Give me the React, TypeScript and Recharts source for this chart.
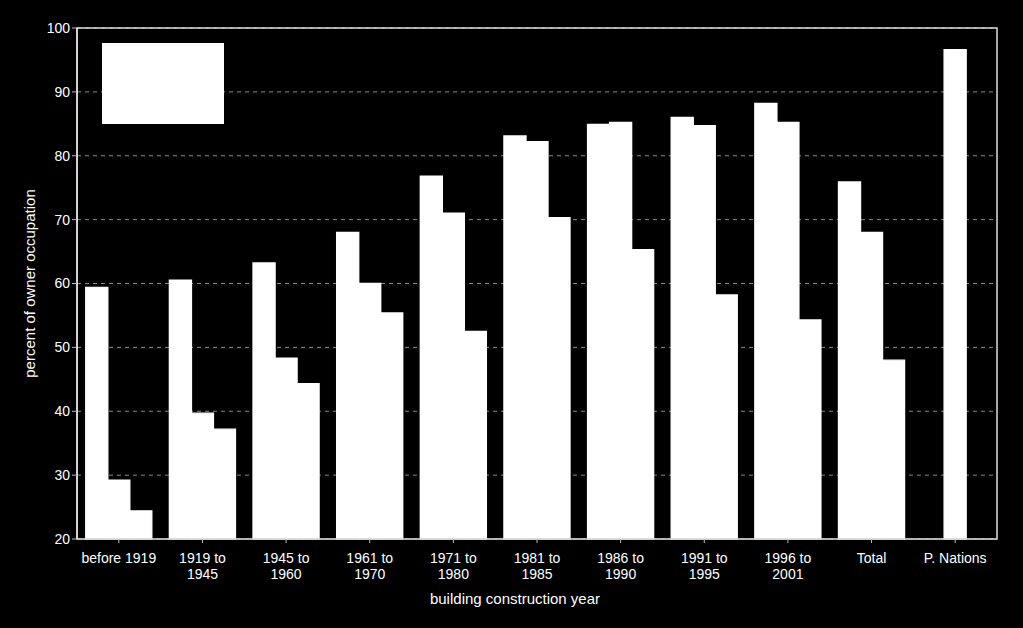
import { BarChart, Bar, XAxis, YAxis, CartesianGrid, Legend, ReferenceArea } from 'recharts';

const categories = [
  'before 1919',
  '1919 to 1945',
  '1945 to 1960',
  '1961 to 1970',
  '1971 to 1980',
  '1981 to 1985',
  '1986 to 1990',
  '1991 to 1995',
  '1996 to 2001',
  'Total',
  'P. Nations',
];

const seriesA = [59.4, 60.5, 63.2, 68.0, 76.8, 83.1, 84.9, 86.0, 88.2, 75.9, null];
const seriesB = [29.2, 39.7, 48.3, 60.0, 71.0, 82.2, 85.2, 84.7, 85.2, 68.0, 96.6];
const seriesC = [24.4, 37.2, 44.3, 55.4, 52.5, 70.3, 65.3, 58.2, 54.3, 48.0, null];

const yTicks = [20, 30, 40, 50, 60, 70, 80, 90, 100];

const data = categories.map((name, i) => ({
  name,
  a: seriesA[i],
  b: seriesB[i],
  c: seriesC[i],
}));

const FONT = '"Liberation Sans", Arial, sans-serif';

function CategoryTick({ x, y, payload }: any) {
  const label: string = payload.value;
  const idx = label.indexOf(' to ');
  const lines = idx >= 0 ? [label.slice(0, idx + 3), label.slice(idx + 4)] : [label];
  return (
    <text x={x} y={y + 18} textAnchor="middle" fill="#fff" fontSize={14} fontFamily={FONT}>
      {lines.map((l, i) => (
        <tspan key={i} x={x} dy={i === 0 ? 0 : 16}>
          {l}
        </tspan>
      ))}
    </text>
  );
}

export default function App() {
  return (
    <div style={{ position: 'fixed', left: 0, top: 0, width: 1023, height: 628, background: '#000' }}>
      <BarChart
        width={1023}
        height={628}
        data={data}
        margin={{ top: 28, right: 26, bottom: 39, left: 27 }}
        barGap={0}
        barCategoryGap="10.5%"
      >
        <CartesianGrid vertical={false} stroke="#8a8a8a" strokeDasharray="4 4" />
        <XAxis
          dataKey="name"
          height={50}
          interval={0}
          tick={<CategoryTick />}
          tickLine={{ stroke: '#bbb' }}
          axisLine={{ stroke: '#bbb' }}
          tickSize={4}
          label={{
            value: 'building construction year',
            position: 'insideBottom',
            offset: -15,
            dx: -22,
            fill: '#fff',
            fontSize: 15,
            fontFamily: FONT,
          }}
        />
        <YAxis
          width={50}
          domain={[20, 100]}
          ticks={yTicks}
          interval={0}
          tick={{ fill: '#fff', fontSize: 14, fontFamily: FONT }}
          tickLine={{ stroke: '#bbb' }}
          axisLine={{ stroke: '#fff' }}
          tickSize={5}
          label={{
            value: 'percent of owner occupation',
            angle: -90,
            position: 'insideLeft',
            offset: 3,
            fill: '#fff',
            fontSize: 15,
            fontFamily: FONT,
            style: { textAnchor: 'middle' },
          }}
        />
        <ReferenceArea y1={20} y2={100} fill="none" stroke="#ddd" strokeWidth={1.5} ifOverflow="visible" />
        <Legend
          layout="vertical"
          align="center"
          verticalAlign="middle"
          wrapperStyle={{ left: 102, top: 43, width: 122, height: 81 }}
          content={() => <div style={{ width: 122, height: 81, background: '#fff' }} />}
        />
        <Bar dataKey="a" name="series 1" fill="#fff" stroke="#fff" strokeWidth={1.4} isAnimationActive={false} />
        <Bar dataKey="b" name="series 2" fill="#fff" stroke="#fff" strokeWidth={1.4} isAnimationActive={false} />
        <Bar dataKey="c" name="series 3" fill="#fff" stroke="#fff" strokeWidth={1.4} isAnimationActive={false} />
      </BarChart>
    </div>
  );
}
